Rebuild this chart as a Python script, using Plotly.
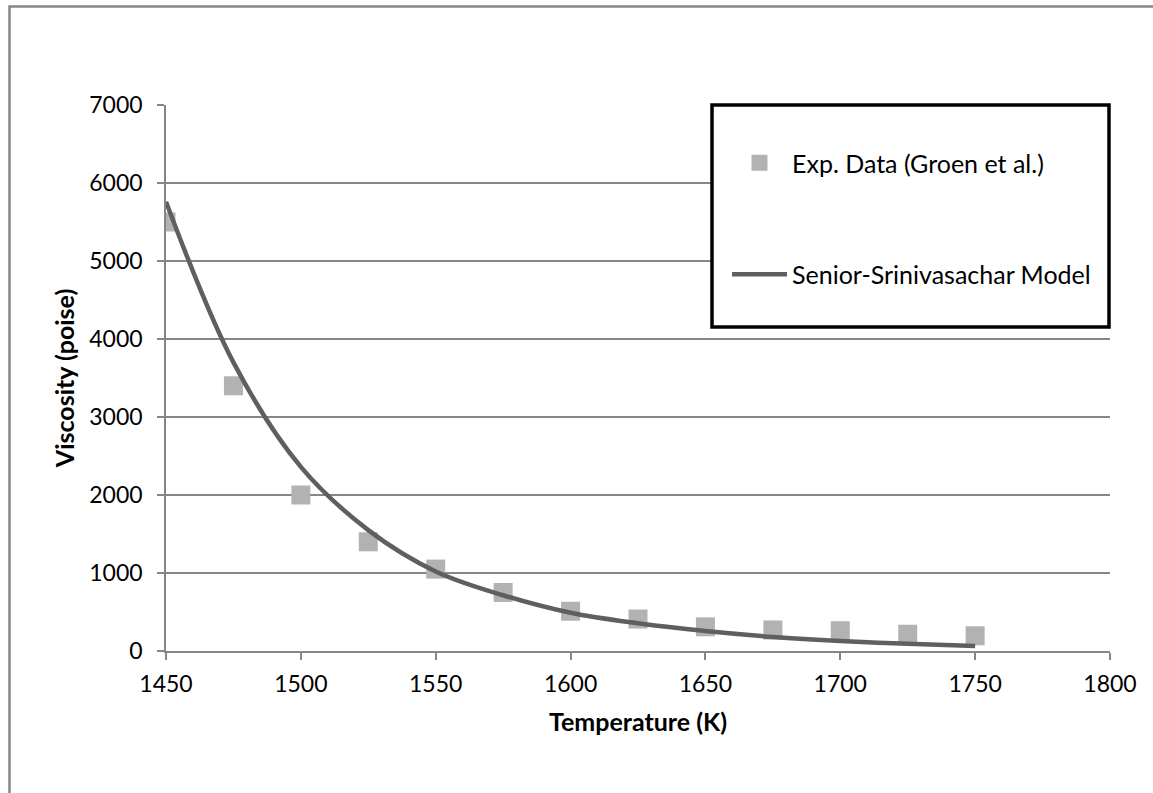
import plotly.graph_objects as go

# Experimental data (Groen et al.)
exp_temp = [1450, 1475, 1500, 1525, 1550, 1575, 1600, 1625, 1650, 1675, 1700, 1725, 1750]
exp_visc = [5500, 3400, 2000, 1400, 1050, 750, 510, 410, 310, 270, 260, 215, 195]

# Senior-Srinivasachar model curve
model_temp = [1450, 1475, 1500, 1525, 1550, 1575, 1600, 1625, 1650, 1675, 1700, 1725, 1750]
model_visc = [5760, 3700, 2360, 1550, 1020, 715, 490, 355, 255, 180, 128, 92, 65]

x_ticks = [1450, 1500, 1550, 1600, 1650, 1700, 1750, 1800]
y_ticks = [0, 1000, 2000, 3000, 4000, 5000, 6000, 7000]

FONT = "Lato"
W, H = 1153, 793
L, R, T, B = 166, 43, 105, 142
pw, ph = W - L - R, H - T - B


def px(xp):
    return (xp - L) / pw


def py(yp):
    return (H - B - yp) / ph


fig = go.Figure()
fig.add_trace(go.Scatter(
    x=exp_temp, y=exp_visc, mode="markers", name="Exp. Data (Groen et al.)",
    marker=dict(symbol="square", size=19, color="#b2b2b2", line=dict(width=0)),
    legendgroup="a",
))
fig.add_trace(go.Scatter(
    x=model_temp, y=model_visc, mode="lines", name="Senior-Srinivasachar Model",
    line=dict(color="#5f5f5f", width=4.5, shape="spline"),
    legendgroup="b",
))

fig.update_layout(
    width=W, height=H,
    margin=dict(l=L, r=R, t=T, b=B, pad=0),
    paper_bgcolor="white", plot_bgcolor="white",
    font=dict(family=FONT, size=23, color="black"),
    showlegend=True,
    legend=dict(
        x=px(727), y=py(140), xanchor="left", yanchor="top",
        bgcolor="rgba(0,0,0,0)", borderwidth=0,
        font=dict(family=FONT, size=25, color="black"),
        itemwidth=55, tracegroupgap=76,
    ),
    xaxis=dict(
        range=[1450, 1800], tickvals=x_ticks, ticktext=[str(v) for v in x_ticks],
        showgrid=False, zeroline=False,
        showline=True, linecolor="#868686", linewidth=1.5,
        ticks="outside", ticklen=7, tickcolor="#868686", tickwidth=1.5,
        tickfont=dict(family=FONT, size=23, color="black"),
        ticklabelstandoff=5,
        title=dict(text="<b>Temperature (K)</b>", font=dict(family=FONT, size=25, color="black"), standoff=17),
    ),
    yaxis=dict(
        range=[0, 7000], tickvals=y_ticks, ticktext=[str(v) for v in y_ticks],
        showgrid=True, gridcolor="#868686", gridwidth=1.5, zeroline=False,
        showline=True, linecolor="#868686", linewidth=1.5,
        ticks="outside", ticklen=7, tickcolor="#868686", tickwidth=1.5,
        tickfont=dict(family=FONT, size=23, color="black"),
        ticklabelstandoff=10,
        title=dict(text="<b>Viscosity (poise)</b>", font=dict(family=FONT, size=25, color="black"), standoff=8),
    ),
    shapes=[
        # outer chart frame (left and top edges visible)
        dict(type="rect", xref="paper", yref="paper",
             x0=px(9.5), x1=px(1175), y0=py(830), y1=py(6.5),
             line=dict(color="#878787", width=2.5), fillcolor="rgba(0,0,0,0)", layer="below"),
        # legend box
        dict(type="rect", xref="paper", yref="paper",
             x0=px(712), x1=px(1109), y0=py(327), y1=py(105),
             line=dict(color="black", width=3.5), fillcolor="white", layer="above"),
    ],
)

fig.write_html(
    "out.html",
    config={"displayModeBar": False},
    post_script="document.body.style.margin='0';document.body.style.overflow='hidden';",
)
